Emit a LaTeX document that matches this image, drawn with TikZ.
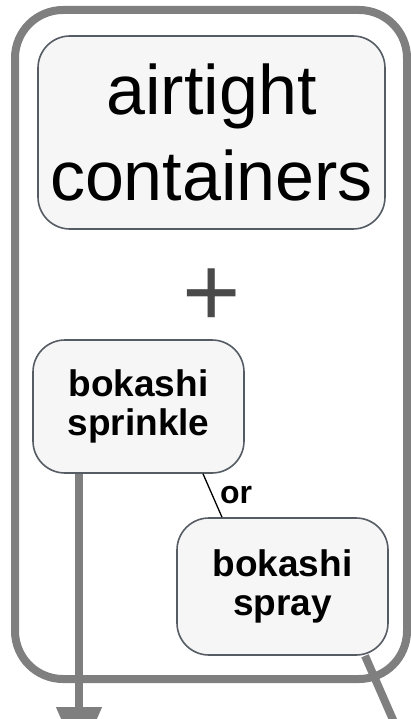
\documentclass[tikz,border=0pt]{standalone}
\usepackage{fontspec}
\setmainfont{Liberation Sans}
\usetikzlibrary{arrows.meta}
\definecolor{framegray}{HTML}{7F7F7F}
\definecolor{boxfill}{HTML}{F6F6F6}
\definecolor{boxline}{HTML}{565C63}
\definecolor{plusgray}{HTML}{4A4A4A}
\pgfdeclarelayer{background}
\pgfsetlayers{background,main}
\begin{document}
\begin{tikzpicture}[x=1pt,y=-1pt,
  framebox/.style={draw=framegray, line width=8pt, rounded corners=48pt, inner sep=0pt,
    minimum width=392pt, minimum height=669pt},
  roundbox/.style={draw=boxline, line width=1.6pt, fill=boxfill, rounded corners=32pt,
    align=center, inner sep=0pt},
  bigtext/.style={font=\fontsize{70}{86}\selectfont},
  smalltext/.style={font=\fontsize{37}{38.5}\selectfont\bfseries},
  flow/.style={draw=framegray, line width=8pt},
  orline/.style={draw=black, line width=1.3pt}
]
\useasboundingbox (0,0) rectangle (411,719);
\clip (0,0) rectangle (411,719);

\node[framebox] (frame) at (211,344.5) {};

\node[roundbox, bigtext, minimum width=347pt, minimum height=193pt] (air) at (211.5,132.5) {airtight\\containers};

\node[inner sep=0pt, text=plusgray, font=\fontsize{100}{100}\selectfont] (plus) at (211.5,298) {+};

\node[roundbox, smalltext, minimum width=211pt, minimum height=133pt] (sprinkle) at (138.5,406.5) {bokashi\\sprinkle};

\node[roundbox, smalltext, minimum width=211pt, minimum height=137pt] (spray) at (282.5,586.5) {bokashi\\spray};

\coordinate (downend) at (79,760);
\coordinate (sprayend) at (404.5,746);

\begin{pgfonlayer}{background}
  \draw[flow, -{Triangle[width=44pt,length=53pt]}] (sprinkle.south -| downend) -- (downend);
  \draw[flow] ([xshift=82.5pt]spray.south) -- (sprayend);
\end{pgfonlayer}

\draw[orline] ([xshift=64.5pt]sprinkle.south) -- ([xshift=-60.5pt]spray.north)
  node[pos=0.5, anchor=west, inner sep=0pt, xshift=7pt, font=\fontsize{32}{32}\selectfont\bfseries] (or) {or};
\end{tikzpicture}
\end{document}
